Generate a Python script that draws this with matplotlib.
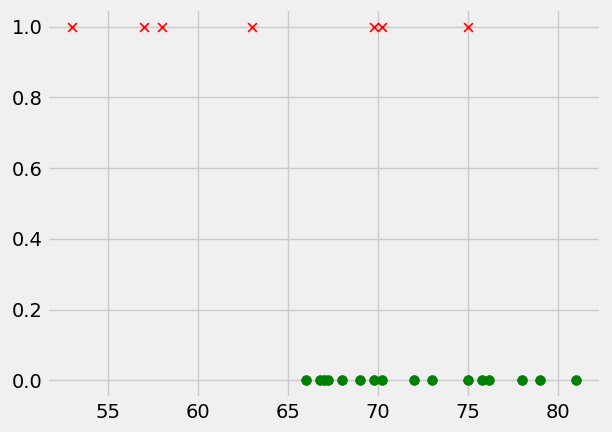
import matplotlib
matplotlib.use("Agg")
import matplotlib.pyplot as plt

plt.style.use("fivethirtyeight")

# class 1 (red crosses) and class 0 (green dots)
pos_x = [53, 57, 58, 63, 69.8, 70.2, 75]
pos_y = [1, 1, 1, 1, 1, 1, 1]
neg_x = [66, 66.8, 67, 67.2, 68, 69, 69.8, 70.2, 72, 73, 75, 75.8, 76.2, 78, 79, 81]
neg_y = [0] * len(neg_x)

fig = plt.figure(figsize=(6.12, 4.32), dpi=100)
fig.subplots_adjust(left=0.077, right=0.982, top=0.979, bottom=0.079)
ax = fig.add_subplot(111)

ax.scatter(pos_x, pos_y, marker="x", c="red", s=40, linewidths=1.2)
ax.scatter(neg_x, neg_y, marker="o", c="green", s=50)

fig.savefig("out.png")
